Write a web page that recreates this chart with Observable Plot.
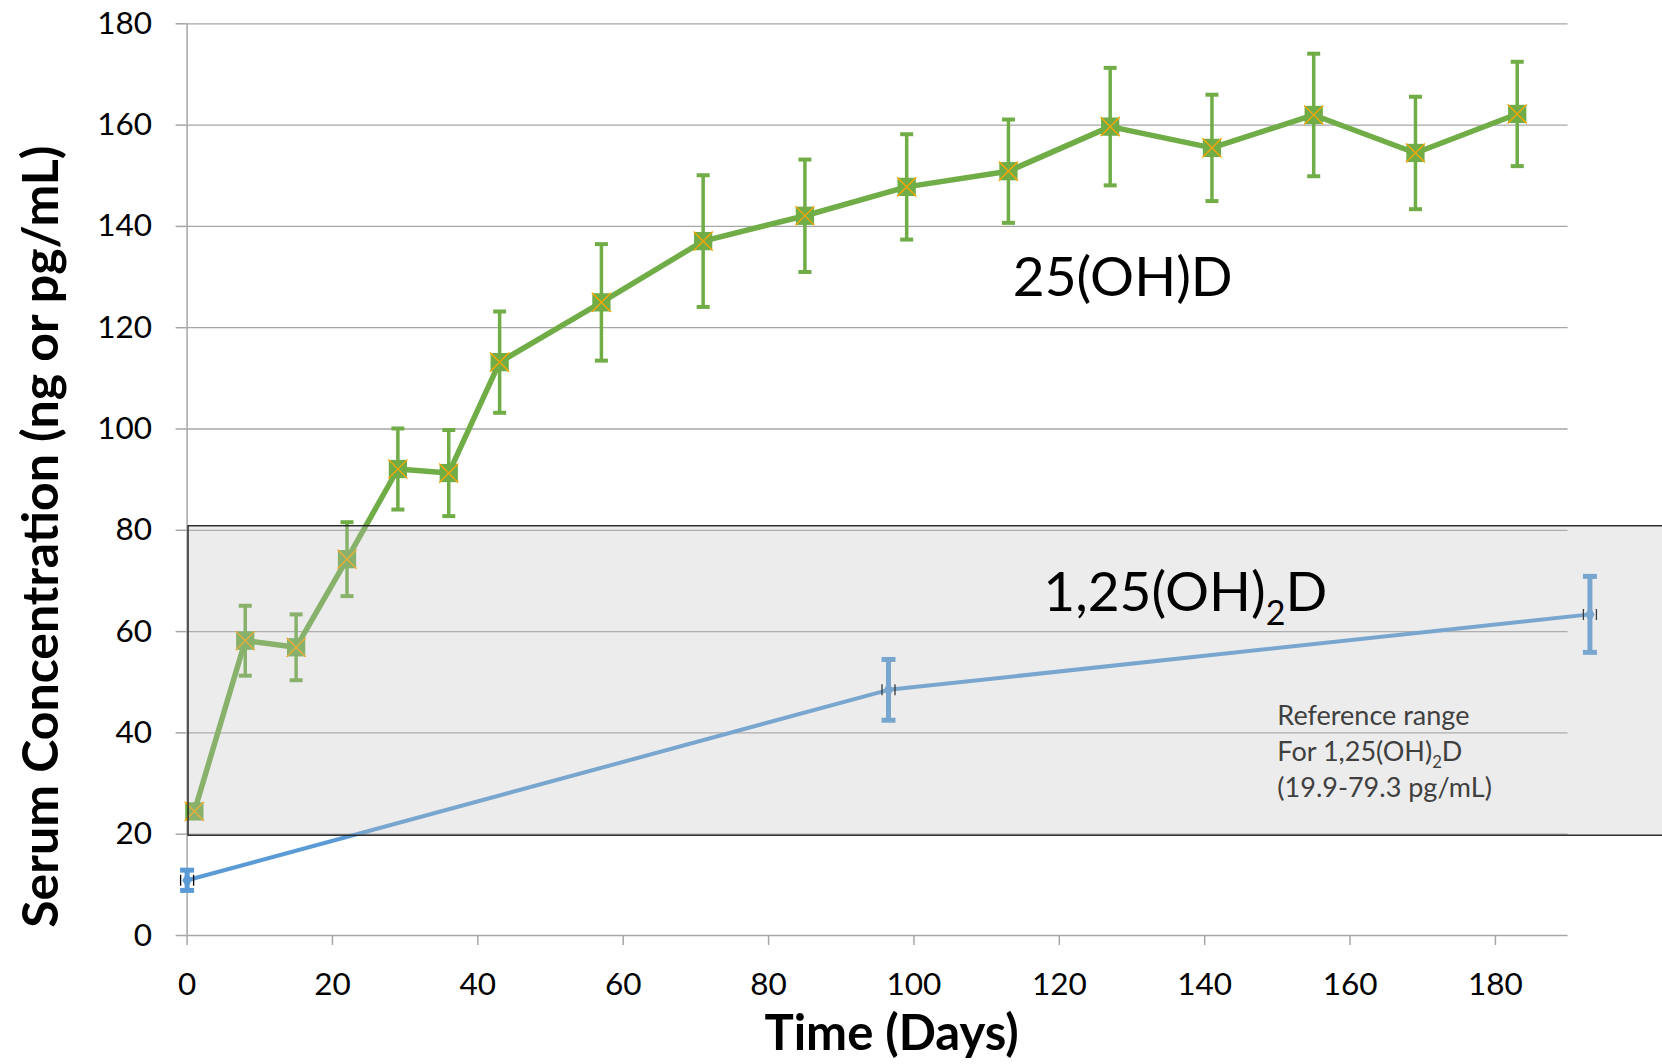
<!DOCTYPE html>
<html>
<head>
<meta charset="utf-8">
<script src="https://cdn.jsdelivr.net/npm/d3@7"></script>
<script src="https://cdn.jsdelivr.net/npm/@observablehq/plot@0.6"></script>
<style>
  html, body { margin: 0; padding: 0; background: #fff; }
  #chart svg { display: block; }
</style>
</head>
<body>
<div id="chart"></div>
<script>
// ---- Data ----
const xTicks = [0, 20, 40, 60, 80, 100, 120, 140, 160, 180];
const yTicks = [0, 20, 40, 60, 80, 100, 120, 140, 160, 180];

// 25(OH)D (ng/mL)
const days25 = [1, 8, 15, 22, 29, 36, 43, 57, 71, 85, 99, 113, 127, 141, 155, 169, 183];
const mean25 = [24.5, 58.2, 56.9, 74.3, 92.1, 91.3, 113.2, 125, 137.1, 142.1, 147.8, 150.9, 159.7, 155.5, 162, 154.5, 162.2];
const err25  = [0.6, 6.9, 6.5, 7.3, 8.0, 8.5, 10.0, 11.5, 13.0, 11.1, 10.4, 10.2, 11.6, 10.5, 12.1, 11.1, 10.3];

// 1,25(OH)2D (pg/mL)
const days125 = [0, 96.5, 193];
const mean125 = [10.9, 48.5, 63.4];
const err125  = [2.0, 6.0, 7.5];

// Reference range box for 1,25(OH)2D
const refLow = 19.7, refHigh = 80.8, refStart = 0.2, refEnd = 230;

// Labels
const label25 = "25(OH)D";
const label125 = "1,25(OH)₂D";
const refText = "Reference range\nFor 1,25(OH)₂D\n(19.9-79.3 pg/mL)";
const xTitle = "Time (Days)";
const yTitle = "Serum Concentration (ng or pg/mL)";

// ---- Tables ----
const s25 = days25.map((d, i) => ({x: d, y: mean25[i], e: err25[i]}));
const s125 = days125.map((d, i) => ({x: d, y: mean125[i], e: err125[i]}));
const s25bars = s25.map(d => ({x: d.x, lo: d.y - d.e, hi: d.y + d.e}));
const s125bars = s125.map(d => ({x: d.x, lo: d.y - d.e, hi: d.y + d.e}));
const capsOf = bars => bars.flatMap(b => [{x: b.x, y: b.lo}, {x: b.x, y: b.hi}]);

// custom symbols
const hcap = (w) => ({draw(ctx) { ctx.moveTo(-w, 0); ctx.lineTo(w, 0); }});
const xcaps = {draw(ctx) { ctx.moveTo(-6.5, -5.5); ctx.lineTo(-6.5, 5.5); ctx.moveTo(6.5, -5.5); ctx.lineTo(6.5, 5.5); }};

const GREEN = "#70AD47", ORANGE = "#FFA500", BLUE = "#5B9BD5", GRID = "#a6a6a6";

const chart = Plot.plot({
  width: 1662,
  height: 1064,
  marginLeft: 186.6,
  marginRight: 94.4,
  marginTop: 23.3,
  marginBottom: 129,
  x: {domain: [0, 190]},
  y: {domain: [0, 180]},
  style: {fontFamily: "Lato, 'Open Sans', sans-serif", background: "#fff", color: "#000"},
  marks: [
    // gridlines
    Plot.ruleY(yTicks.filter(t => t > 0), {stroke: GRID, strokeWidth: 1.3}),
    Plot.ruleY([0], {stroke: GRID, strokeWidth: 1.5}),
    Plot.ruleX([0], {y1: 0, y2: 180, stroke: GRID, strokeWidth: 1.5}),
    Plot.axisY({ticks: yTicks, tickSize: 11, tickPadding: 24, fontSize: 31.5, stroke: GRID, strokeWidth: 1.5, label: null}),
    Plot.axisX({ticks: xTicks, tickSize: 10, tickPadding: 27, fontSize: 31.5, stroke: GRID, strokeWidth: 1.5, label: null}),

    // 1,25(OH)2D series
    Plot.ruleX(s125bars, {x: "x", y1: "lo", y2: "hi", stroke: BLUE, strokeWidth: 5}),
    Plot.dot(capsOf(s125bars), {x: "x", y: "y", symbol: hcap(7), stroke: BLUE, strokeWidth: 5, r: 5}),
    Plot.line(s125, {x: "x", y: "y", stroke: BLUE, strokeWidth: 4}),
    Plot.dot(s125, {x: "x", y: "y", symbol: xcaps, stroke: "#000", strokeWidth: 1.3, r: 5}),
    Plot.dot(s125, {x: "x", y: "y", symbol: "diamond", fill: BLUE, r: 5}),

    // 25(OH)D series
    Plot.ruleX(s25bars, {x: "x", y1: "lo", y2: "hi", stroke: GREEN, strokeWidth: 3.5}),
    Plot.dot(capsOf(s25bars), {x: "x", y: "y", symbol: hcap(6.5), stroke: GREEN, strokeWidth: 4, r: 5}),
    Plot.line(s25, {x: "x", y: "y", stroke: GREEN, strokeWidth: 5.5}),
    Plot.dot(s25, {x: "x", y: "y", symbol: "square", fill: GREEN, r: 10.3}),
    Plot.dot(s25, {x: "x", y: "y", symbol: "times", stroke: ORANGE, strokeWidth: 1.3, r: 8.8}),

    // reference range box (drawn over the series, semi-transparent)
    Plot.rect([{lo: refLow, hi: refHigh}], {x1: refStart, x2: refEnd, y1: "lo", y2: "hi", fill: "#bfbfbf", fillOpacity: 0.3, stroke: "#222", strokeWidth: 1.4}),

    // labels
    Plot.text([label25], {x: 113.6, y: 126.2, text: d => d, textAnchor: "start", lineAnchor: "bottom", fontSize: 55, fill: "#000"}),
    Plot.text([label125], {x: 117.8, y: 64.1, text: d => d, textAnchor: "start", lineAnchor: "bottom", fontSize: 55, fill: "#000"}),
    Plot.text([refText], {x: 150, y: 27.3, text: d => d, textAnchor: "start", lineAnchor: "bottom", fontSize: 27, lineHeight: 1.33, fill: "#404040"}),

    // axis titles
    Plot.text([xTitle], {frameAnchor: "bottom", text: d => d, textAnchor: "middle", lineAnchor: "middle", dx: 14, dy: 99, fontSize: 49, fontWeight: "bold", fill: "#000"}),
    Plot.text([yTitle], {frameAnchor: "left", text: d => d, textAnchor: "middle", lineAnchor: "middle", rotate: -90, dx: -145, dy: 57, fontSize: 50, fontWeight: "bold", fill: "#000"})
  ]
});

// subscript "₂" -> real subscript tspan
(function subscriptify(svg) {
  const NS = "http://www.w3.org/2000/svg";
  const walker = document.createTreeWalker(svg, NodeFilter.SHOW_TEXT);
  const nodes = [];
  while (walker.nextNode()) if (walker.currentNode.nodeValue.includes("₂")) nodes.push(walker.currentNode);
  for (const n of nodes) {
    const holder = n.parentNode.closest("[font-size]");
    const fs = holder ? parseFloat(holder.getAttribute("font-size")) : 16;
    const [a, b] = n.nodeValue.split("₂");
    const frag = document.createDocumentFragment();
    frag.append(document.createTextNode(a));
    const sub = document.createElementNS(NS, "tspan");
    sub.setAttribute("font-size", (fs * 0.62).toFixed(1));
    sub.setAttribute("dy", (fs * 0.26).toFixed(1));
    sub.textContent = "2";
    frag.append(sub);
    const rest = document.createElementNS(NS, "tspan");
    rest.setAttribute("dy", (-fs * 0.26).toFixed(1));
    rest.textContent = b;
    frag.append(rest);
    n.parentNode.replaceChild(frag, n);
  }
})(chart);

document.getElementById("chart").append(chart);
</script>
</body>
</html>
